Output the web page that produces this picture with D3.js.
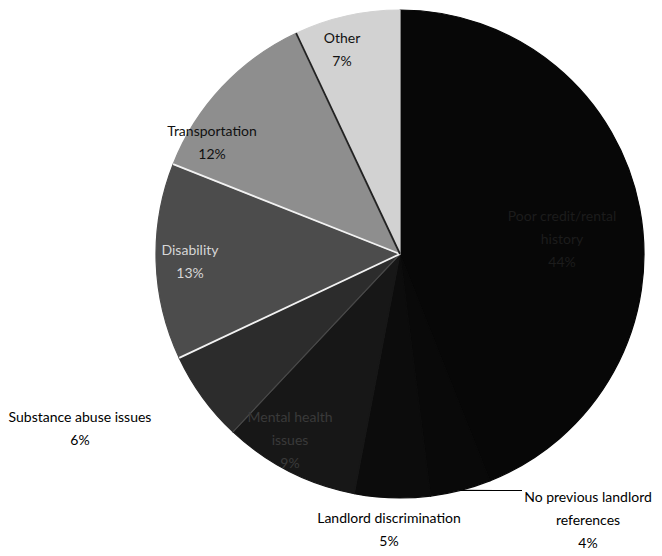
<!DOCTYPE html>
<html>
<head>
<meta charset="utf-8">
<script src="https://cdn.jsdelivr.net/npm/d3@7"></script>
<style>
  body { margin: 0; background: #fff; }
  text { font-family: Lato, "Open Sans", sans-serif; font-size: 14px; }
</style>
</head>
<body>
<script>
// data (clockwise from 12 o'clock)
var categories = ["Poor credit/rental history", "No previous landlord references", "Landlord discrimination",
  "Mental health issues", "Substance abuse issues", "Disability", "Transportation", "Other"];
var values = [44, 4, 5, 9, 6, 13, 12, 7];
var labelLines = [["Poor credit/rental", "history"], ["No previous landlord", "references"], ["Landlord discrimination"],
  ["Mental health", "issues"], ["Substance abuse issues"], ["Disability"], ["Transportation"], ["Other"]];

// styling
var fills = ["#070707", "#090909", "#0c0c0c", "#171717", "#2c2c2c", "#4c4c4c", "#8e8e8e", "#d2d2d2"];
var textFills = ["#1c1c1c", "#000", "#000", "#3a3a3a", "#000", "#d6d6d6", "#111", "#111"];
// edge drawn at the start of each slice (null = none)
var edgeColors = [null, null, null, null, "#4a4a4a", "#f2f2f2", "#f2f2f2", "#222"];
// label block centre, relative to pie centre
var labelOffsets = [[162, -15], [188, 266], [-11, 276], [-110, 186], [-320, 175], [-210, 8], [-188, -111], [-58, -204]];

var svgWidth = 662, svgHeight = 556;
var cx = 400, cy = 254, radius = 244;
var lineH = 23;

var svg = d3.select("body").append("svg")
  .attr("width", svgWidth)
  .attr("height", svgHeight);

svg.append("rect").attr("width", svgWidth).attr("height", svgHeight).attr("fill", "#fff");

var chartGroup = svg.append("g")
  .attr("transform", `translate(${cx}, ${cy})`);

var pie = d3.pie().sort(null).value(d => d);
var arcs = pie(values);
var arc = d3.arc().innerRadius(0).outerRadius(radius);

chartGroup.selectAll("path.slice")
  .data(arcs)
  .enter()
  .append("path")
  .attr("class", "slice")
  .attr("d", arc)
  .attr("fill", (d, i) => fills[i])
  .attr("stroke", (d, i) => fills[i])
  .attr("stroke-width", 1.2)
  .attr("stroke-linejoin", "round");

// slice edges
chartGroup.selectAll("line.edge")
  .data(arcs.filter((d, i) => edgeColors[i]))
  .enter()
  .append("line")
  .attr("class", "edge")
  .attr("x1", 0).attr("y1", 0)
  .attr("x2", d => radius * Math.sin(d.startAngle))
  .attr("y2", d => -radius * Math.cos(d.startAngle))
  .attr("stroke", d => edgeColors[d.index])
  .attr("stroke-width", d => d.index === 4 ? 1.2 : 1.8);

// leader line for the small slice at the bottom
var mid = (arcs[1].startAngle + arcs[1].endAngle) / 2;
var ex = radius * Math.sin(mid), ey = -radius * Math.cos(mid);
var lx = labelOffsets[1][0], ly = labelOffsets[1][1] - lineH * 1.5 + 5;
chartGroup.append("path")
  .attr("d", `M${ex},${ey} L${ex + 35},${ly} L${lx - 66},${ly}`)
  .attr("fill", "none")
  .attr("stroke", "#000")
  .attr("stroke-width", 1.2);

// labels
var labels = chartGroup.selectAll("text.lbl")
  .data(arcs)
  .enter()
  .append("text")
  .attr("class", "lbl")
  .attr("text-anchor", "middle")
  .attr("fill", (d, i) => textFills[i]);

labels.each(function(d, i) {
  var lines = labelLines[i].concat([values[i] + "%"]);
  var top = labelOffsets[i][1] - (lines.length - 1) * lineH / 2;
  var t = d3.select(this);
  lines.forEach(function(s, k) {
    t.append("tspan")
      .attr("x", labelOffsets[i][0])
      .attr("y", top + k * lineH)
      .attr("dy", "0.35em")
      .text(s);
  });
});
</script>
</body>
</html>
